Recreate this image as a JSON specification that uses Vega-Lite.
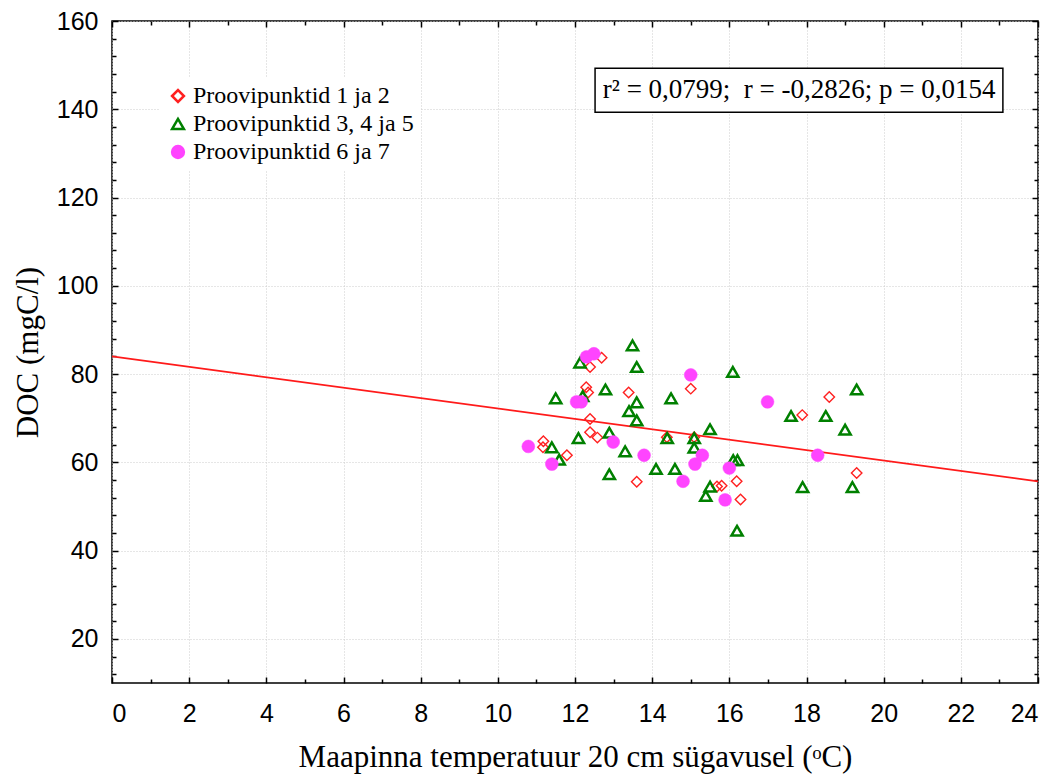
{
  "$schema": "https://vega.github.io/schema/vega-lite/v6.json",
  "width": 926,
  "height": 662,
  "autosize": {"type": "none"},
  "padding": {"left": 112, "top": 21, "right": 19, "bottom": 93},
  "background": "white",
  "config": {
    "view": {"stroke": "black", "strokeWidth": 1.5},
    "axis": {
      "domain": false,
      "tickColor": "black",
      "tickWidth": 1.5,
      "labelFont": "Liberation Sans",
      "labelFontSize": 25,
      "labelColor": "black",
      "titleFont": "Liberation Serif",
      "titleFontWeight": "normal",
      "titleFontSize": 31,
      "titleColor": "black",
      "gridColor": "#cccccc",
      "gridDash": [1, 2],
      "gridWidth": 1
    },
    "legend": {
      "orient": "none",
      "legendX": 48,
      "legendY": 57,
      "fillColor": "white",
      "padding": 6,
      "labelFont": "Liberation Serif",
      "labelFontSize": 24,
      "labelColor": "black",
      "labelLimit": 0,
      "symbolSize": 140,
      "symbolStrokeWidth": 2.5,
      "rowPadding": 4,
      "labelOffset": 3
    }
  },
  "data": {
    "values": [
      {"g": "Proovipunktid 1 ja 2", "x": 11.18, "y": 64.8},
      {"g": "Proovipunktid 1 ja 2", "x": 11.17, "y": 63.4},
      {"g": "Proovipunktid 1 ja 2", "x": 11.79, "y": 61.6},
      {"g": "Proovipunktid 1 ja 2", "x": 12.29, "y": 77.0},
      {"g": "Proovipunktid 1 ja 2", "x": 12.34, "y": 75.8},
      {"g": "Proovipunktid 1 ja 2", "x": 12.39, "y": 81.6},
      {"g": "Proovipunktid 1 ja 2", "x": 12.69, "y": 83.7},
      {"g": "Proovipunktid 1 ja 2", "x": 12.39, "y": 69.8},
      {"g": "Proovipunktid 1 ja 2", "x": 12.39, "y": 66.8},
      {"g": "Proovipunktid 1 ja 2", "x": 12.58, "y": 65.6},
      {"g": "Proovipunktid 1 ja 2", "x": 13.39, "y": 75.8},
      {"g": "Proovipunktid 1 ja 2", "x": 13.60, "y": 55.6},
      {"g": "Proovipunktid 1 ja 2", "x": 15.00, "y": 76.7},
      {"g": "Proovipunktid 1 ja 2", "x": 14.38, "y": 65.7},
      {"g": "Proovipunktid 1 ja 2", "x": 15.09, "y": 65.7},
      {"g": "Proovipunktid 1 ja 2", "x": 15.68, "y": 54.5},
      {"g": "Proovipunktid 1 ja 2", "x": 15.80, "y": 54.7},
      {"g": "Proovipunktid 1 ja 2", "x": 16.19, "y": 55.7},
      {"g": "Proovipunktid 1 ja 2", "x": 16.29, "y": 51.6},
      {"g": "Proovipunktid 1 ja 2", "x": 17.89, "y": 70.7},
      {"g": "Proovipunktid 1 ja 2", "x": 18.59, "y": 74.8},
      {"g": "Proovipunktid 1 ja 2", "x": 19.30, "y": 57.6},
      {"g": "Proovipunktid 3, 4 ja 5", "x": 11.40, "y": 63.4},
      {"g": "Proovipunktid 3, 4 ja 5", "x": 11.59, "y": 60.6},
      {"g": "Proovipunktid 3, 4 ja 5", "x": 11.50, "y": 74.5},
      {"g": "Proovipunktid 3, 4 ja 5", "x": 12.09, "y": 65.5},
      {"g": "Proovipunktid 3, 4 ja 5", "x": 12.13, "y": 82.6},
      {"g": "Proovipunktid 3, 4 ja 5", "x": 12.20, "y": 75.0},
      {"g": "Proovipunktid 3, 4 ja 5", "x": 12.79, "y": 76.5},
      {"g": "Proovipunktid 3, 4 ja 5", "x": 12.89, "y": 66.7},
      {"g": "Proovipunktid 3, 4 ja 5", "x": 12.89, "y": 57.3},
      {"g": "Proovipunktid 3, 4 ja 5", "x": 13.30, "y": 62.5},
      {"g": "Proovipunktid 3, 4 ja 5", "x": 13.40, "y": 71.6},
      {"g": "Proovipunktid 3, 4 ja 5", "x": 13.49, "y": 86.5},
      {"g": "Proovipunktid 3, 4 ja 5", "x": 13.60, "y": 81.6},
      {"g": "Proovipunktid 3, 4 ja 5", "x": 13.60, "y": 73.6},
      {"g": "Proovipunktid 3, 4 ja 5", "x": 13.60, "y": 69.5},
      {"g": "Proovipunktid 3, 4 ja 5", "x": 14.10, "y": 58.5},
      {"g": "Proovipunktid 3, 4 ja 5", "x": 14.39, "y": 65.5},
      {"g": "Proovipunktid 3, 4 ja 5", "x": 14.49, "y": 74.5},
      {"g": "Proovipunktid 3, 4 ja 5", "x": 14.59, "y": 58.5},
      {"g": "Proovipunktid 3, 4 ja 5", "x": 15.09, "y": 65.5},
      {"g": "Proovipunktid 3, 4 ja 5", "x": 15.09, "y": 63.3},
      {"g": "Proovipunktid 3, 4 ja 5", "x": 15.39, "y": 52.4},
      {"g": "Proovipunktid 3, 4 ja 5", "x": 15.50, "y": 54.5},
      {"g": "Proovipunktid 3, 4 ja 5", "x": 15.50, "y": 67.5},
      {"g": "Proovipunktid 3, 4 ja 5", "x": 16.09, "y": 80.5},
      {"g": "Proovipunktid 3, 4 ja 5", "x": 16.10, "y": 60.5},
      {"g": "Proovipunktid 3, 4 ja 5", "x": 16.21, "y": 60.5},
      {"g": "Proovipunktid 3, 4 ja 5", "x": 16.20, "y": 44.5},
      {"g": "Proovipunktid 3, 4 ja 5", "x": 17.60, "y": 70.5},
      {"g": "Proovipunktid 3, 4 ja 5", "x": 17.90, "y": 54.4},
      {"g": "Proovipunktid 3, 4 ja 5", "x": 18.50, "y": 70.5},
      {"g": "Proovipunktid 3, 4 ja 5", "x": 19.00, "y": 67.4},
      {"g": "Proovipunktid 3, 4 ja 5", "x": 19.19, "y": 54.4},
      {"g": "Proovipunktid 3, 4 ja 5", "x": 19.30, "y": 76.5},
      {"g": "Proovipunktid 6 ja 7", "x": 10.79, "y": 63.6},
      {"g": "Proovipunktid 6 ja 7", "x": 11.40, "y": 59.6},
      {"g": "Proovipunktid 6 ja 7", "x": 12.04, "y": 73.7},
      {"g": "Proovipunktid 6 ja 7", "x": 12.16, "y": 73.7},
      {"g": "Proovipunktid 6 ja 7", "x": 12.30, "y": 83.9},
      {"g": "Proovipunktid 6 ja 7", "x": 12.49, "y": 84.6},
      {"g": "Proovipunktid 6 ja 7", "x": 12.99, "y": 64.6},
      {"g": "Proovipunktid 6 ja 7", "x": 13.79, "y": 61.6},
      {"g": "Proovipunktid 6 ja 7", "x": 15.00, "y": 79.8},
      {"g": "Proovipunktid 6 ja 7", "x": 14.80, "y": 55.7},
      {"g": "Proovipunktid 6 ja 7", "x": 15.11, "y": 59.6},
      {"g": "Proovipunktid 6 ja 7", "x": 15.30, "y": 61.6},
      {"g": "Proovipunktid 6 ja 7", "x": 16.00, "y": 58.7},
      {"g": "Proovipunktid 6 ja 7", "x": 15.89, "y": 51.5},
      {"g": "Proovipunktid 6 ja 7", "x": 16.99, "y": 73.7},
      {"g": "Proovipunktid 6 ja 7", "x": 18.29, "y": 61.6}
    ]
  },
  "layer": [
    {
      "data": {"values": [{"x": 0, "y": 84.0}, {"x": 24, "y": 55.7}]},
      "mark": {"type": "line", "color": "#ff1a1a", "strokeWidth": 1.8},
      "encoding": {
        "x": {"field": "x", "type": "quantitative", "scale": {"domain": [0, 24], "nice": false, "zero": false},
          "axis": {"orient": "bottom", "values": [1,3,5,7,9,11,13,15,17,19,21,23], "tickSize": -4, "labels": false, "grid": false, "title": null}},
        "y": {"field": "y", "type": "quantitative", "scale": {"domain": [10, 160], "nice": false, "zero": false},
          "axis": {"orient": "left", "values": [12,16,24,28,32,36,44,48,52,56,64,68,72,76,84,88,92,96,104,108,112,116,124,128,132,136,144,148,152,156], "tickSize": -4, "labels": false, "grid": false, "title": null}}
      }
    },
    {
      "transform": [{"filter": "datum.g === 'Proovipunktid 1 ja 2'"}],
      "mark": {"type": "point", "strokeWidth": 1.4, "size": 110, "opacity": 1},
      "encoding": {
        "x": {"field": "x", "type": "quantitative",
          "axis": {"orient": "bottom", "values": [0,2,4,6,8,10,12,14,16,18,20,22,24], "tickSize": -6, "grid": true, "labelPadding": 24, "titlePadding": 16, "title": "Maapinna temperatuur 20 cm sügavusel (ᵒC)"}},
        "y": {"field": "y", "type": "quantitative",
          "axis": {"orient": "left", "values": [20,40,60,80,100,120,140,160], "tickSize": -6, "grid": true, "labelPadding": 20, "titlePadding": 12, "title": "DOC (mgC/l)"}},
        "stroke": {"field": "g", "type": "nominal",
          "scale": {"domain": ["Proovipunktid 1 ja 2", "Proovipunktid 3, 4 ja 5", "Proovipunktid 6 ja 7"], "range": ["#ff2020", "#008000", "#ff44ff"]},
          "legend": {"title": null, "encode": {"symbols": {"update": {"stroke": {"signal": "datum.value === 'Proovipunktid 1 ja 2' ? '#cc1f1f' : datum.value === 'Proovipunktid 3, 4 ja 5' ? '#22e022' : '#ff44ff'"}}}}}},
        "fill": {"field": "g", "type": "nominal",
          "scale": {"domain": ["Proovipunktid 1 ja 2", "Proovipunktid 3, 4 ja 5", "Proovipunktid 6 ja 7"], "range": ["transparent", "transparent", "#ff44ff"]},
          "legend": {"title": null}},
        "shape": {"field": "g", "type": "nominal",
          "scale": {"domain": ["Proovipunktid 1 ja 2", "Proovipunktid 3, 4 ja 5", "Proovipunktid 6 ja 7"], "range": ["diamond", "triangle-up", "circle"]},
          "legend": {"title": null}}
      }
    },
    {
      "transform": [{"filter": "datum.g === 'Proovipunktid 3, 4 ja 5'"}],
      "mark": {"type": "point", "strokeWidth": 2.5, "size": 125, "opacity": 1},
      "encoding": {
        "x": {"field": "x", "type": "quantitative", "axis": null},
        "y": {"field": "y", "type": "quantitative", "axis": null},
        "stroke": {"field": "g", "type": "nominal"},
        "fill": {"field": "g", "type": "nominal"},
        "shape": {"field": "g", "type": "nominal"}
      }
    },
    {
      "transform": [{"filter": "datum.g === 'Proovipunktid 6 ja 7'"}],
      "mark": {"type": "point", "strokeWidth": 0.5, "size": 165, "opacity": 1},
      "encoding": {
        "x": {"field": "x", "type": "quantitative", "axis": null},
        "y": {"field": "y", "type": "quantitative", "axis": null},
        "stroke": {"field": "g", "type": "nominal"},
        "fill": {"field": "g", "type": "nominal"},
        "shape": {"field": "g", "type": "nominal"}
      }
    },
    {
      "data": {"values": [{"label": "r² = 0,0799;\u00a0 r = -0,2826; p = 0,0154"}]},
      "mark": {"type": "rect", "fill": "white", "stroke": "black", "strokeWidth": 1.5},
      "encoding": {
        "x": {"datum": 12.52, "type": "quantitative",
          "axis": {"orient": "top", "values": [0,2,4,6,8,10,12,14,16,18,20,22,24], "tickSize": -6, "labels": false, "grid": false, "title": null}},
        "x2": {"datum": 23.09},
        "y": {"datum": 149.3, "type": "quantitative",
          "axis": {"orient": "right", "values": [20,40,60,80,100,120,140,160], "tickSize": -6, "labels": false, "grid": false, "title": null}},
        "y2": {"datum": 139.3}
      }
    },
    {
      "data": {"values": [{"label": "r² = 0,0799;\u00a0 r = -0,2826; p = 0,0154"}]},
      "mark": {"type": "text", "font": "Liberation Serif", "fontSize": 27, "color": "black", "align": "center", "baseline": "middle"},
      "encoding": {
        "x": {"datum": 17.81, "type": "quantitative",
          "axis": {"orient": "top", "values": [1,3,5,7,9,11,13,15,17,19,21,23], "tickSize": -4, "labels": false, "grid": false, "title": null}},
        "y": {"datum": 144.3, "type": "quantitative",
          "axis": {"orient": "right", "values": [12,16,24,28,32,36,44,48,52,56,64,68,72,76,84,88,92,96,104,108,112,116,124,128,132,136,144,148,152,156], "tickSize": -4, "labels": false, "grid": false, "title": null}},
        "text": {"field": "label"}
      }
    }
  ],
  "resolve": {"axis": {"x": "independent", "y": "independent"}}
}
